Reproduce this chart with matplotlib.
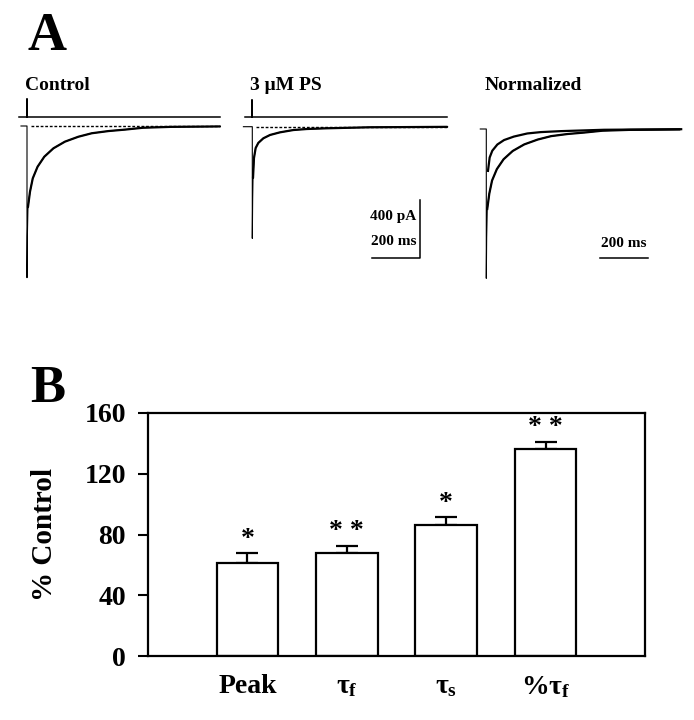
import numpy as np
import matplotlib
matplotlib.use('Agg')
import matplotlib.pyplot as plt

plt.rcParams['font.family'] = ['Liberation Serif', 'DejaVu Serif']
plt.rcParams['font.weight'] = 'bold'
plt.rcParams['mathtext.fontset'] = 'custom'
plt.rcParams['mathtext.rm'] = 'Liberation Serif:bold'
plt.rcParams['mathtext.it'] = 'Liberation Serif:bold'
plt.rcParams['mathtext.bf'] = 'Liberation Serif:bold'

# ---- panel A: current traces (ms, pA) ----
ctrl_t = [-25, 0, 0, 1.5, 4, 12.5, 24, 44, 72, 110, 158, 214, 270, 339, 408, 484, 600, 804]
ctrl_i = [0, 0, -1046, -760, -560, -453, -361, -281, -212, -154, -108, -74, -50, -35, -25, -12, -6, -3]
ps_t = [-37, 0, 0, 1.5, 3, 7, 14, 25, 46, 74, 115, 171, 227, 310, 490, 812]
ps_i = [0, 0, -770, -500, -354, -216, -147, -112, -80, -57, -39, -23, -16, -11, -4, -1]
# stimulus marker (relative units)
stim_t_ctrl = [-33, 0, 0, 0, 804]
stim_t_ps = [-30, 0, 0, 0, 812]
stim_v = [0, 0, 1, 0, 0]

# ---- panel B: bar chart ----
labels = ['Peak', r'$\tau_\mathrm{f}$', r'$\tau_\mathrm{s}$', r'%$\tau_\mathrm{f}$']
values = [61, 68, 86, 136]
errors = [6.5, 4.5, 5.5, 5.0]
stars = ['*', '* *', '*', '* *']

W, H = 694, 720
MS_PX = 200 / 48.0
PA_PX = 400 / 58.0
fig = plt.figure(figsize=(W / 100, H / 100), dpi=100)


def trace_axes(x0, y0, tlim, ylim, ypx):
    left = x0 + tlim[0] / MS_PX
    right = x0 + tlim[1] / MS_PX
    top = y0 - ylim[1] / ypx
    bottom = y0 - ylim[0] / ypx
    ax = fig.add_axes([left / W, 1 - bottom / H, (right - left) / W, (bottom - top) / H])
    ax.set_xlim(tlim)
    ax.set_ylim(ylim)
    ax.axis('off')
    return ax


def draw_trace(ax, t, i, stim_t, thin_to):
    ax.plot(t, i, color='black', lw=0.8)
    ax.plot(t[thin_to:], i[thin_to:], color='black', lw=1.6, solid_capstyle='round')
    ax.plot(stim_t, 64 + 122 * np.array(stim_v), color='black', lw=1.1)
    ax.plot([15, t[-1]], [0, 0], color='black', lw=1.0, ls=(0, (2, 1.3)))


ax1 = trace_axes(27, 126, (-50, 830), (-1100, 220), PA_PX)
draw_trace(ax1, ctrl_t, ctrl_i, stim_t_ctrl, 4)

ax2 = trace_axes(252.3, 126.7, (-50, 830), (-1100, 220), PA_PX)
draw_trace(ax2, ps_t, ps_i, stim_t_ps, 4)
# scale bars
ax2.plot([499, 699, 699], [-906, -906, -506], color='black', lw=1.1)
ax2.text(685, -621, '400 pA', ha='right', va='center', fontsize=11)
ax2.text(685, -793, '200 ms', ha='right', va='center', fontsize=11)

ax3 = trace_axes(486.3, 129, (-50, 830), (-1.1, 0.15), 1 / 149.3)
c_norm = np.array(ctrl_i) / abs(min(ctrl_i))
p_norm = np.array(ps_i) / abs(min(ps_i))
ax3.plot(ctrl_t, c_norm, color='black', lw=0.8)
ax3.plot(ctrl_t[4:], c_norm[4:], color='black', lw=1.6)
ax3.plot(ps_t[5:], p_norm[5:], color='black', lw=1.6)
ax3.plot([474, 674], [-0.864, -0.864], color='black', lw=1.1)
ax3.text(574, -0.77, '200 ms', ha='center', va='center', fontsize=11)

fig.text(25 / W, 1 - 85 / H, 'Control', fontsize=14, va='center')
fig.text(250 / W, 1 - 85 / H, '3 \u03bcM PS', fontsize=14, va='center')
fig.text(485 / W, 1 - 86 / H, 'Normalized', fontsize=14, va='center')
fig.text(28 / W, 1 - 50 / H, 'A', fontsize=39, va='baseline')
fig.text(30 / W, 1 - 402 / H, 'B', fontsize=38, va='baseline')

# bar panel
axb = fig.add_axes([148 / W, 1 - 656 / H, 497 / W, 243 / H])
x = np.arange(1, len(values) + 1)
axb.bar(x, values, width=0.62, color='white', edgecolor='black', linewidth=1.6, zorder=2)
axb.errorbar(x, values, yerr=[np.zeros(len(errors)), errors], fmt='none', ecolor='black',
             elinewidth=1.6, capsize=8, capthick=1.6, zorder=1)
for xi, v, e, s in zip(x, values, errors, stars):
    axb.text(xi, v + e + 1, s, ha='center', va='bottom', fontsize=20, fontweight='bold')
axb.set_xlim(0, 5)
axb.set_ylim(0, 160)
axb.set_yticks([0, 40, 80, 120, 160])
axb.set_xticks(x)
axb.set_xticklabels(labels)
axb.tick_params(axis='y', direction='out', length=7, width=1.5, pad=9, labelsize=20)
axb.tick_params(axis='x', length=0, pad=13, labelsize=20)
for sp in axb.spines.values():
    sp.set_linewidth(1.6)
axb.set_ylabel('% Control', fontsize=21, fontweight='bold', labelpad=19)

fig.savefig('out.png', dpi=100)
